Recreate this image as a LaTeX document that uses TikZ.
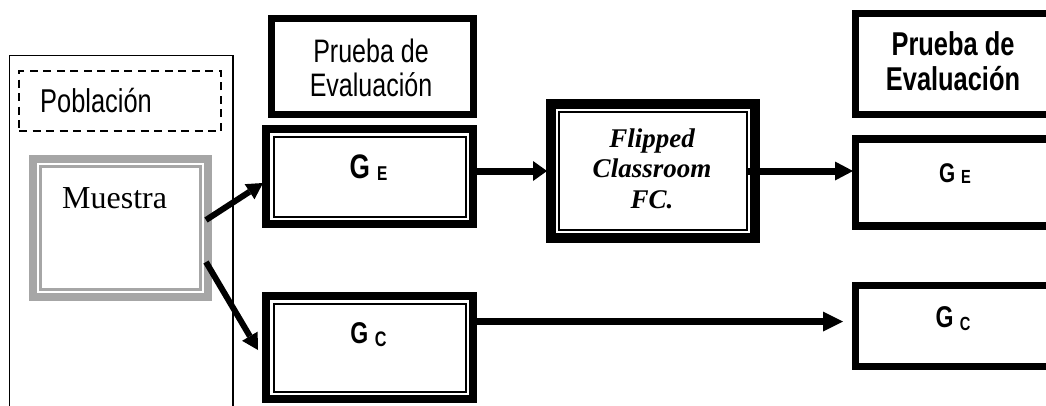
\documentclass[tikz,border=0pt]{standalone}
\usepackage{fontspec}
\usetikzlibrary{arrows.meta,calc}
\newfontfamily\narrowsans{Liberation Sans}[FakeStretch=0.77]
\newfontfamily\serifrm{Liberation Serif}
\definecolor{framegray}{HTML}{A6A6A6}

\begin{document}
\begin{tikzpicture}[x=1pt,y=-1pt,
  box/.style={draw,rectangle,inner sep=0pt,outer sep=0pt},
  heavy/.style={box,line width=7.5pt},
  thinline/.style={line width=2pt},
  sanslab/.style={font=\narrowsans\fontsize{32.5}{34}\selectfont,align=center,inner sep=0pt},
  boldlab/.style={font=\narrowsans\bfseries\fontsize{33}{35}\selectfont,align=center,inner sep=0pt},
  grp/.style={anchor=base,inner sep=0pt},
  arr/.style={line width=7pt},
  side/.style={line width=6pt,-{Triangle[length=16pt,width=18pt,line width=0pt]}}
]
\useasboundingbox (0,0) rectangle (1046,405);
\clip (0,0) rectangle (1046,405);

% population frame and its dashed title box
\node[box,line width=1.5pt,minimum width=223.5pt,minimum height=380pt] (pob) at (121.25,245.5) {};
\node[box,line width=2pt,dash pattern=on 8pt off 5.5pt,minimum width=202pt,minimum height=60pt] (pobl) at (120,101) {};
\node[font=\narrowsans\fontsize{33}{34}\selectfont,anchor=base west,inner sep=0pt] (pobltxt)
  at ($(pobl.north west)+(21,41)$) {Población};

% sample box (grey thick-thin frame)
\node[box,draw=framegray,line width=8pt,minimum width=175pt,minimum height=138pt] (ms) at (120.5,228) {};
\draw[framegray,line width=2.5pt] ($(ms.north west)+(7.5,7.5)$) rectangle ($(ms.south east)+(-7.5,-7.5)$);
\node[font=\serifrm\fontsize{32}{36}\selectfont,anchor=base west,inner sep=0pt] (mstxt)
  at ($(ms.north west)+(29,49)$) {Muestra};

% pre-test box
\node[heavy,line width=7pt,minimum width=202pt,minimum height=96pt] (pr1) at (372.5,66.5) {};
\node[sanslab] (pr1txt) at ($(pr1.center)+(-1.5,1)$) {Prueba de\\Evaluación};

% experimental group (thick-thin frame)
\node[heavy,line width=8pt,minimum width=207pt,minimum height=95pt] (ge) at (369.5,176.5) {};
\draw[thinline] ($(ge.north west)+(7.5,7.5)$) rectangle ($(ge.south east)+(-7.5,-7.5)$);
\node[grp,font=\narrowsans\bfseries\fontsize{34}{36}\selectfont] (getxt) at ($(ge.north)+(-1,49)$)
  {G \raisebox{-2pt}{\fontsize{20}{22}\selectfont E}};

% control group (thick-thin frame)
\node[heavy,line width=8pt,minimum width=207pt,minimum height=103pt] (gc) at (369.5,347.5) {};
\draw[thinline] ($(gc.north west)+(7.5,7.5)$) rectangle ($(gc.south east)+(-7.5,-7.5)$);
\node[grp,font=\narrowsans\bfseries\fontsize{30}{32}\selectfont] (gctxt) at ($(gc.north)+(-1,47)$)
  {G \raisebox{-3pt}{\fontsize{21}{23}\selectfont C}};

% treatment box
\node[heavy,line width=10pt,minimum width=204pt,minimum height=134pt] (fc) at (653,171) {};
\draw[thinline] ($(fc.north west)+(8,8)$) rectangle ($(fc.south east)+(-8,-8)$);
\node[font=\serifrm\bfseries\itshape\fontsize{27}{30.5}\selectfont,align=center,inner sep=0pt] (fctxt)
  at ($(fc.center)+(-1,-2.5)$) {Flipped\\Classroom\\FC.};

% post-test boxes
\node[heavy,line width=7pt,minimum width=195pt,minimum height=101pt] (pr2) at (953,64) {};
\node[boldlab] (pr2txt) at ($(pr2.center)+(0,-2.8)$) {Prueba de\\Evaluación};

\node[heavy,minimum width=195pt,minimum height=87pt] (ger) at (953,182.5) {};
\node[grp,font=\narrowsans\bfseries\fontsize{27}{29}\selectfont] (gertxt) at ($(ger.north)+(2,43)$)
  {G \raisebox{-1pt}{\fontsize{19}{21}\selectfont E}};

\node[heavy,minimum width=195pt,minimum height=81pt] (gcr) at (953,326) {};
\node[grp,font=\narrowsans\bfseries\fontsize{30}{32}\selectfont] (gcrtxt) at ($(gcr.north)+(0,41.5)$)
  {G \raisebox{-3pt}{\fontsize{19}{21}\selectfont C}};

% connectors
\coordinate (getip) at ($(ger.west |- fc.center)+(-2.5,0)$);
\coordinate (gctip) at ($(gcr.west)+(-12.5,-4.5)$);

\draw[side] ($(ms.east)+(-2,-8)$) -- ($(ge.west)+(-3,6.5)$);
\draw[side] ($(ms.east)+(-2,34)$) -- ($(gc.west)+(-8,2.5)$);
\draw[arr,-{Triangle[length=14pt,width=20pt,line width=0pt]}] (ge.east |- fc.center) -- ($(fc.west)+(-4,0)$);
\draw[arr,-{Triangle[length=18pt,width=19pt,line width=0pt]}] ($(fc.east)+(-8,0)$) -- (getip);
\draw[arr,-{Triangle[length=20pt,width=20pt,line width=0pt]}] (gc.east |- gctip) -- (gctip);
\end{tikzpicture}
\end{document}
